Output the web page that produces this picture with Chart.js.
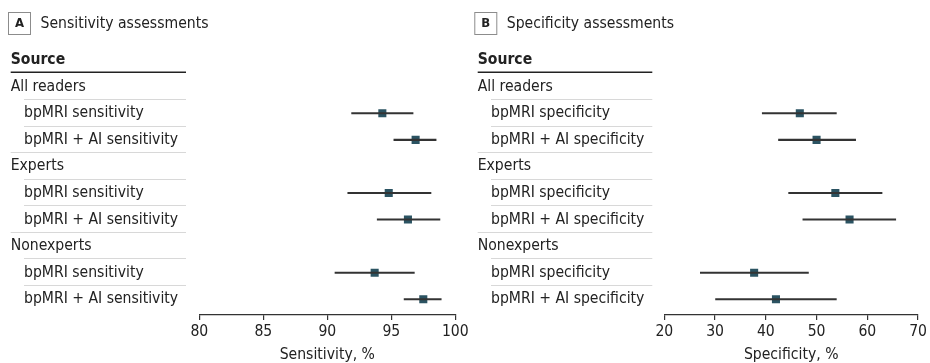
<!DOCTYPE html>
<html>
<head>
<meta charset="utf-8">
<script src="https://cdn.jsdelivr.net/npm/chart.js@4/dist/chart.umd.min.js"></script>
<style>
  html, body { margin: 0; padding: 0; background: #fff; }
  #wrap { position: relative; width: 930px; height: 363px; overflow: hidden; }
  canvas { position: absolute; top: 0; }
  #cA { left: 0; }
  #cB { left: 465px; }
</style>
</head>
<body>
<div id="wrap">
  <canvas id="cA" width="480" height="363"></canvas>
  <canvas id="cB" width="465" height="363"></canvas>
</div>
<script>
// ---- data ----
const groups = ['All readers', 'Experts', 'Nonexperts'];
const methodsA = ['bpMRI sensitivity', 'bpMRI + AI sensitivity'];
const methodsB = ['bpMRI specificity', 'bpMRI + AI specificity'];
// order: All(bpMRI, AI), Experts(bpMRI, AI), Nonexperts(bpMRI, AI)
const sensEst  = [94.3, 96.9, 94.8, 96.3, 93.7, 97.5];
const sensLow  = [91.9, 95.2, 91.6, 93.9, 90.6, 96.0];
const sensHigh = [96.7, 98.5, 98.1, 98.8, 96.8, 98.9];
const specEst  = [46.7, 50.0, 53.7, 56.5, 37.7, 42.0];
const specLow  = [39.3, 42.5, 44.5, 47.3, 27.1, 30.1];
const specHigh = [53.9, 57.7, 62.9, 65.6, 48.4, 53.9];
const sensTicks = { min: 80, max: 100, step: 5 };
const specTicks = { min: 20, max: 70, step: 10 };

const FONT = '"DejaVu Sans Condensed", "DejaVu Sans", sans-serif';
const FS = 15.6;
const TXT = '#222222';
const MARK = '#2b5362';
const WHISK = '#333333';

function rowIndex(k) { return Math.floor(k / 2) * 3 + 1 + (k % 2); }

function buildRows(methods) {
  const rows = [];
  groups.forEach(g => {
    rows.push({ label: g, group: true });
    methods.forEach(m => rows.push({ label: m, group: false }));
  });
  return rows;
}

function tablePlugin(o) {
  return {
    id: 'table' + o.letter,
    afterDraw(chart) {
      const ctx = chart.ctx;
      const ys = chart.scales.y;
      ctx.save();
      // panel letter box
      ctx.strokeStyle = '#8c8c8c';
      ctx.lineWidth = 1;
      ctx.strokeRect(o.boxX + 0.5, 12.5, 22, 22);
      ctx.fillStyle = TXT;
      ctx.textBaseline = 'middle';
      ctx.textAlign = 'center';
      ctx.font = 'bold 13px ' + FONT;
      ctx.fillText(o.letter, o.boxX + 11.5, 24);
      ctx.textAlign = 'left';
      ctx.font = FS + 'px ' + FONT;
      ctx.fillText(o.title, o.boxX + 32.5, 24);
      // header
      ctx.font = 'bold ' + FS + 'px ' + FONT;
      ctx.fillText('Source', o.x0, 60);
      ctx.strokeStyle = '#222';
      ctx.lineWidth = 1.5;
      ctx.beginPath(); ctx.moveTo(o.x0, 72.2); ctx.lineTo(o.x1, 72.2); ctx.stroke();
      // rows
      ctx.font = FS + 'px ' + FONT;
      const rows = o.rows;
      rows.forEach((r, i) => {
        const y = ys.getPixelForValue(i);
        ctx.fillStyle = TXT;
        ctx.fillText(r.label, r.group ? o.x0 : o.indent, y);
        if (i < rows.length - 1) {
          const yl = Math.round((y + ys.getPixelForValue(i + 1)) / 2) - 0.5;
          const startX = rows[i + 1].group ? o.x0 : o.indent;
          ctx.strokeStyle = '#d8d8d8';
          ctx.lineWidth = 1;
          ctx.beginPath(); ctx.moveTo(startX, yl); ctx.lineTo(o.x1, yl); ctx.stroke();
        }
      });
      ctx.restore();
    }
  };
}

function makeChart(id, est, low, high, tk, axisTitle, rows, plug, padRight) {
  const whiskers = est.map((_, k) => ({ x: [low[k], high[k]], y: rowIndex(k) }));
  const points = est.map((v, k) => ({ x: v, y: rowIndex(k) }));
  return new Chart(document.getElementById(id), {
    type: 'bar',
    data: {
      datasets: [
        {
          type: 'bar',
          data: whiskers,
          backgroundColor: WHISK,
          borderWidth: 0,
          barThickness: 1.4,
          grouped: false
        },
        {
          type: 'scatter',
          data: points,
          pointStyle: 'rect',
          pointRadius: 5.7,
          pointBackgroundColor: MARK,
          pointBorderColor: MARK,
          pointBorderWidth: 0,
          showLine: false
        }
      ]
    },
    options: {
      indexAxis: 'y',
      responsive: false,
      animation: false,
      devicePixelRatio: 1,
      layout: { padding: { left: 199.3, right: padRight, top: 73.4, bottom: 0 } },
      plugins: { legend: { display: false }, tooltip: { enabled: false } },
      events: [],
      scales: {
        y: {
          type: 'linear',
          display: false,
          reverse: true,
          offset: false,
          grace: 0,
          min: -0.5,
          max: 8.59
        },
        x: {
          type: 'linear',
          position: 'bottom',
          offset: false,
          min: tk.min,
          max: tk.max,
          afterFit: s => { s.height = 48; },
          ticks: {
            stepSize: tk.step,
            color: TXT,
            font: { family: FONT, size: FS },
            padding: 3,
            maxRotation: 0
          },
          grid: {
            drawOnChartArea: false,
            drawTicks: true,
            tickLength: 5,
            color: '#333',
            lineWidth: 1.2
          },
          border: { display: true, color: '#333', width: 1.3 },
          title: {
            display: true,
            text: axisTitle,
            color: TXT,
            font: { family: FONT, size: FS, lineHeight: 1 },
            padding: { top: 0, bottom: 0 }
          }
        }
      }
    },
    plugins: [plug]
  });
}

makeChart('cA', sensEst, sensLow, sensHigh, sensTicks, 'Sensitivity, %',
  buildRows(methodsA),
  tablePlugin({ letter: 'A', title: 'Sensitivity assessments', boxX: 8, x0: 10.7, indent: 24, x1: 186, rows: buildRows(methodsA) }),
  480 - 455.3);
makeChart('cB', specEst, specLow, specHigh, specTicks, 'Specificity, %',
  buildRows(methodsB),
  tablePlugin({ letter: 'B', title: 'Specificity assessments', boxX: 9.3, x0: 12.7, indent: 26, x1: 187.3, rows: buildRows(methodsB) }),
  465 - 920.3 + 465);
</script>
</body>
</html>
